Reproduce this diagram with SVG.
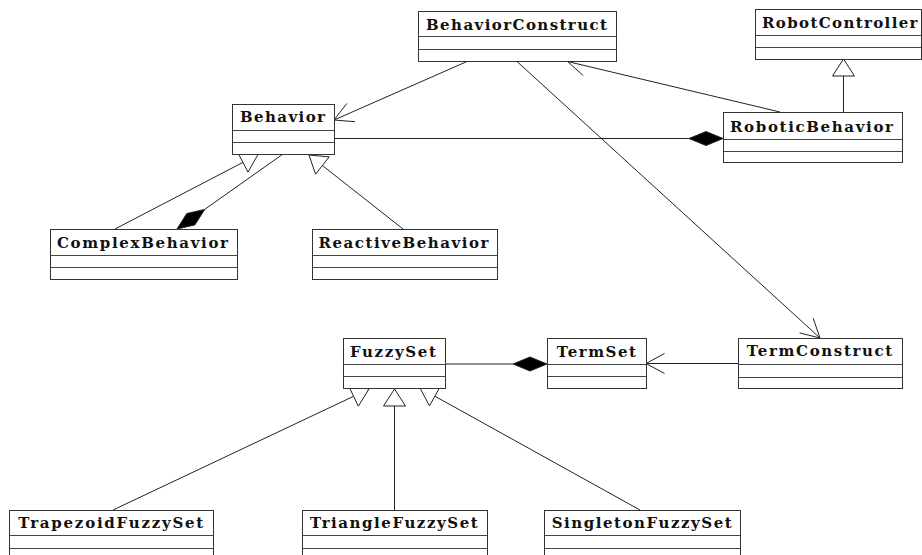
<svg xmlns="http://www.w3.org/2000/svg" width="922" height="555" viewBox="0 0 922 555">
<style>
.box{fill:#fff;stroke:#333;stroke-width:1}
.sep{stroke:#444;stroke-width:1}
.t{font-family:"DejaVu Serif","Liberation Serif",serif;font-weight:bold;font-size:15px;fill:#111}
.ln{stroke:#222;stroke-width:1;fill:none}
.tri{fill:#fff;stroke:#222;stroke-width:1}
.dia{fill:#000;stroke:#222;stroke-width:1}
</style>
<rect width="922" height="555" fill="#fff"/>
<g id="connectors">
  <!-- BehaviorConstruct -> Behavior -->
  <line class="ln" x1="467" y1="61.5" x2="334" y2="120"/>
  <polyline class="ln" points="355,121.7 334,120 346.9,103.4"/>
  <!-- RoboticBehavior -> BehaviorConstruct -->
  <line class="ln" x1="780" y1="112" x2="567.5" y2="61.5"/>
  <polyline class="ln" points="587.8,56 567.5,61.5 583.2,75.5"/>
  <!-- BehaviorConstruct -> TermConstruct -->
  <line class="ln" x1="517" y1="61.5" x2="820" y2="338"/>
  <polyline class="ln" points="799.6,332.9 820,338 813.1,318.1"/>
  <!-- TermConstruct -> TermSet -->
  <line class="ln" x1="738" y1="363.5" x2="646" y2="363.5"/>
  <polyline class="ln" points="664.5,353.5 646,363.5 664.5,373.5"/>
  <!-- Behavior <>- RoboticBehavior -->
  <line class="ln" x1="334" y1="138.5" x2="689" y2="138.5"/>
  <polygon class="dia" points="723,138.5 706,131.5 689,138.5 706,145.5"/>
  <!-- FuzzySet <>- TermSet -->
  <line class="ln" x1="445" y1="364" x2="513" y2="364"/>
  <polygon class="dia" points="547,364 530,357 513,364 530,371"/>
  <!-- Behavior <>- ComplexBehavior -->
  <line class="ln" x1="204.7" y1="209.4" x2="283" y2="154"/>
  <polygon class="dia" points="177,229 194.9,224.9 204.7,209.4 186.8,213.5"/>
  <!-- RoboticBehavior inherits RobotController -->
  <line class="ln" x1="843.5" y1="76" x2="843.5" y2="112"/>
  <polygon class="tri" points="843.5,59 832.5,76 854.5,76"/>
  <!-- ComplexBehavior inherits Behavior -->
  <line class="ln" x1="115" y1="229" x2="242.9" y2="162.4"/>
  <polygon class="tri" points="258,154.5 248,172.1 237.8,152.6"/>
  <!-- ReactiveBehavior inherits Behavior -->
  <line class="ln" x1="403" y1="229" x2="322.4" y2="165.5"/>
  <polygon class="tri" points="309,155 329.2,156.9 315.6,174.2"/>
  <!-- TrapezoidFuzzySet inherits FuzzySet -->
  <line class="ln" x1="113" y1="510" x2="353.6" y2="396.3"/>
  <polygon class="tri" points="369,389 358.3,406.2 348.9,386.4"/>
  <!-- TriangleFuzzySet inherits FuzzySet -->
  <line class="ln" x1="394.5" y1="406" x2="394.5" y2="510"/>
  <polygon class="tri" points="394.5,389 383.5,406 405.5,406"/>
  <!-- SingletonFuzzySet inherits FuzzySet -->
  <line class="ln" x1="640" y1="510" x2="434.9" y2="396.2"/>
  <polygon class="tri" points="420,388 440.2,386.6 429.5,405.9"/>
</g>
<g id="BehaviorConstruct">
  <rect class="box" x="418.5" y="11.5" width="198" height="50"/>
  <line class="sep" x1="418.5" y1="36.5" x2="616.5" y2="36.5"/>
  <line class="sep" x1="418.5" y1="49.5" x2="616.5" y2="49.5"/>
  <text class="t" x="426" y="30" textLength="181" lengthAdjust="spacing">BehaviorConstruct</text>
</g>
<g id="RobotController">
  <rect class="box" x="755.5" y="9.5" width="166" height="50"/>
  <line class="sep" x1="755.5" y1="35.5" x2="921.5" y2="35.5"/>
  <line class="sep" x1="755.5" y1="47.5" x2="921.5" y2="47.5"/>
  <text class="t" x="762" y="28.3" textLength="155.5" lengthAdjust="spacing">RobotController</text>
</g>
<g id="RoboticBehavior">
  <rect class="box" x="723.5" y="112.5" width="179" height="50"/>
  <line class="sep" x1="723.5" y1="139.5" x2="902.5" y2="139.5"/>
  <line class="sep" x1="723.5" y1="151.5" x2="902.5" y2="151.5"/>
  <text class="t" x="730" y="131.7" textLength="163" lengthAdjust="spacing">RoboticBehavior</text>
</g>
<g id="Behavior">
  <rect class="box" x="232.5" y="104.5" width="102" height="50"/>
  <line class="sep" x1="232.5" y1="130.5" x2="334.5" y2="130.5"/>
  <line class="sep" x1="232.5" y1="142.5" x2="334.5" y2="142.5"/>
  <text class="t" x="240" y="122.3" textLength="85" lengthAdjust="spacing">Behavior</text>
</g>
<g id="ComplexBehavior">
  <rect class="box" x="50.5" y="229.5" width="187" height="50"/>
  <line class="sep" x1="50.5" y1="255.5" x2="237.5" y2="255.5"/>
  <line class="sep" x1="50.5" y1="267.5" x2="237.5" y2="267.5"/>
  <text class="t" x="57" y="248.3" textLength="171" lengthAdjust="spacing">ComplexBehavior</text>
</g>
<g id="ReactiveBehavior">
  <rect class="box" x="312.5" y="229.5" width="185" height="50"/>
  <line class="sep" x1="312.5" y1="255.5" x2="497.5" y2="255.5"/>
  <line class="sep" x1="312.5" y1="267.5" x2="497.5" y2="267.5"/>
  <text class="t" x="318.5" y="248.3" textLength="170" lengthAdjust="spacing">ReactiveBehavior</text>
</g>
<g id="FuzzySet">
  <rect class="box" x="343.5" y="338.5" width="102" height="50"/>
  <line class="sep" x1="343.5" y1="364.5" x2="445.5" y2="364.5"/>
  <line class="sep" x1="343.5" y1="376.5" x2="445.5" y2="376.5"/>
  <text class="t" x="350" y="357.3" textLength="86" lengthAdjust="spacing">FuzzySet</text>
</g>
<g id="TermSet">
  <rect class="box" x="547.5" y="338.5" width="99" height="50"/>
  <line class="sep" x1="547.5" y1="364.5" x2="646.5" y2="364.5"/>
  <line class="sep" x1="547.5" y1="376.5" x2="646.5" y2="376.5"/>
  <text class="t" x="556.7" y="357.3" textLength="79.3" lengthAdjust="spacing">TermSet</text>
</g>
<g id="TermConstruct">
  <rect class="box" x="738.5" y="338.5" width="164" height="50"/>
  <line class="sep" x1="738.5" y1="364.5" x2="902.5" y2="364.5"/>
  <line class="sep" x1="738.5" y1="377.5" x2="902.5" y2="377.5"/>
  <text class="t" x="746.7" y="356.3" textLength="145.6" lengthAdjust="spacing">TermConstruct</text>
</g>
<g id="TrapezoidFuzzySet">
  <rect class="box" x="9.5" y="510.5" width="204" height="50"/>
  <line class="sep" x1="9.5" y1="535.5" x2="213.5" y2="535.5"/>
  <line class="sep" x1="9.5" y1="548.5" x2="213.5" y2="548.5"/>
  <text class="t" x="18.3" y="528.3" textLength="185" lengthAdjust="spacing">TrapezoidFuzzySet</text>
</g>
<g id="TriangleFuzzySet">
  <rect class="box" x="302.5" y="510.5" width="185" height="50"/>
  <line class="sep" x1="302.5" y1="535.5" x2="487.5" y2="535.5"/>
  <line class="sep" x1="302.5" y1="548.5" x2="487.5" y2="548.5"/>
  <text class="t" x="310" y="528.3" textLength="167.7" lengthAdjust="spacing">TriangleFuzzySet</text>
</g>
<g id="SingletonFuzzySet">
  <rect class="box" x="544.5" y="510.5" width="196" height="50"/>
  <line class="sep" x1="544.5" y1="535.5" x2="740.5" y2="535.5"/>
  <line class="sep" x1="544.5" y1="548.5" x2="740.5" y2="548.5"/>
  <text class="t" x="551.7" y="528.3" textLength="180" lengthAdjust="spacing">SingletonFuzzySet</text>
</g>
</svg>
